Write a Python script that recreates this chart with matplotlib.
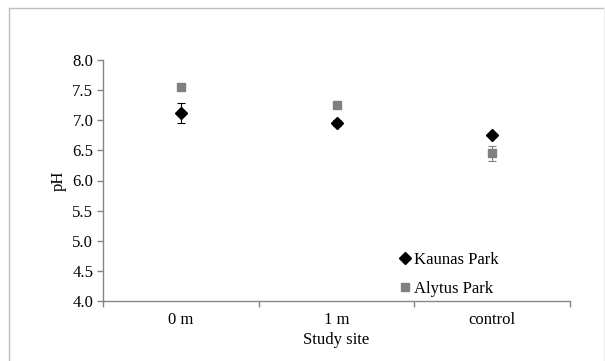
import matplotlib
matplotlib.use("Agg")
import matplotlib.pyplot as plt
from matplotlib.lines import Line2D

categories = ["0 m", "1 m", "control"]
kaunas = [7.12, 6.95, 6.75]
kaunas_err = [0.16, 0.05, 0.03]
alytus = [7.56, 7.26, 6.45]
alytus_err = [0.03, 0.03, 0.12]
yticks = [4.0, 4.5, 5.0, 5.5, 6.0, 6.5, 7.0, 7.5, 8.0]

plt.rcParams['font.family'] = ['Liberation Serif', 'DejaVu Serif']
fig = plt.figure(figsize=(6.05, 3.61), dpi=100)
ax = fig.add_axes([103/605, 60/361, 467/605, 241/361])

x = list(range(len(categories)))
ax.errorbar(x, kaunas, yerr=kaunas_err, fmt='D', color='black', ms=6.5,
            ecolor='black', elinewidth=0.8, capsize=3, capthick=0.8, zorder=3)
ax.errorbar(x, alytus, yerr=alytus_err, fmt='s', color='#808080', ms=6,
            ecolor='#808080', elinewidth=0.8, capsize=3, capthick=0.8, zorder=3)

ax.set_xlim(-0.5, 2.5)
ax.set_ylim(4.0, 8.0)
ax.set_yticks(yticks)
ax.set_yticklabels([f"{v:.1f}" for v in yticks])
ax.set_xticks([-0.5, 0.5, 1.5, 2.5])
ax.set_xticklabels([])
ax.set_xticks(x, minor=True)
ax.set_xticklabels(categories, minor=True)
ax.tick_params(axis='x', which='minor', length=0, pad=8, labelsize=12)
ax.tick_params(axis='x', which='major', length=4, color='#868686', width=1)
ax.tick_params(axis='y', length=4, color='#868686', width=1, labelsize=12, pad=3)

for s in ['top', 'right']:
    ax.spines[s].set_visible(False)
for s in ['left', 'bottom']:
    ax.spines[s].set_color('#868686')
    ax.spines[s].set_linewidth(1)

ax.set_ylabel('pH', fontsize=12, labelpad=4)
ax.set_xlabel('Study site', fontsize=12, labelpad=3)

handles = [Line2D([], [], ls='none', marker='D', color='black', ms=6),
           Line2D([], [], ls='none', marker='s', color='#808080', ms=5.5)]
leg = ax.legend(handles, ['Kaunas Park', 'Alytus Park'], loc='lower left',
                bbox_to_anchor=(0.615, -0.025), frameon=False,
                fontsize=12, handlelength=0.6, handletextpad=0.2,
                labelspacing=0.8, borderaxespad=0.2)

# outer border
fig.add_artist(Line2D([8.5/605, 8.5/605], [0, 1 - 7.5/361], transform=fig.transFigure, color='#bdbdbd', lw=1))
fig.add_artist(Line2D([8.5/605, 603.5/605], [1 - 7.5/361, 1 - 7.5/361], transform=fig.transFigure, color='#bdbdbd', lw=1))
fig.add_artist(Line2D([603.5/605, 603.5/605], [0, 1 - 7.5/361], transform=fig.transFigure, color='#eeeeee', lw=1))

fig.savefig('out.png', dpi=100)
